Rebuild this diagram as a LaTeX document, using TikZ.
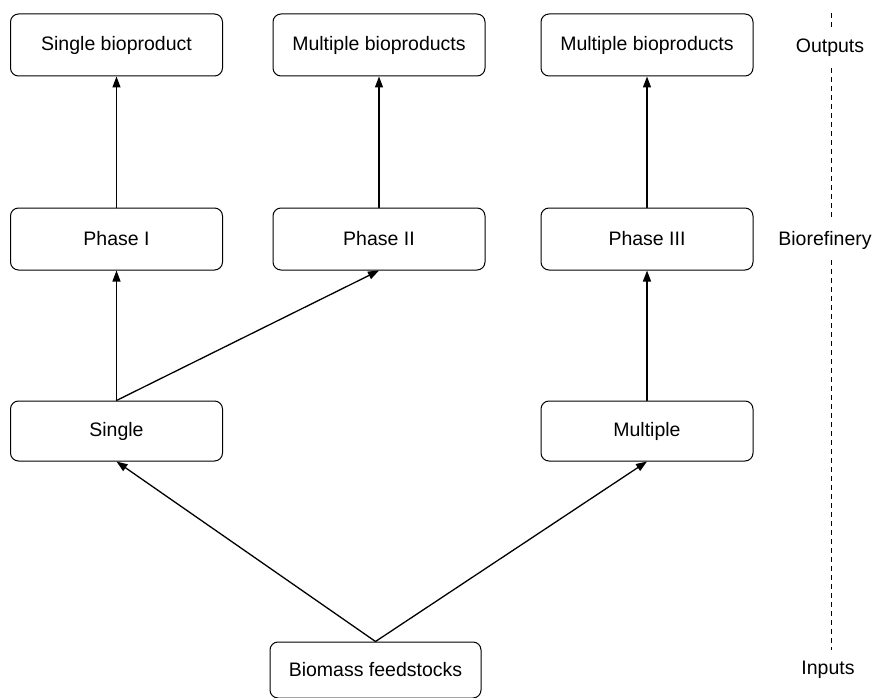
\documentclass[tikz,border=0pt]{standalone}
\usepackage{fontspec}
\setmainfont{Liberation Sans}
\usetikzlibrary{arrows.meta,positioning}

\begin{document}
\begin{tikzpicture}[x=1pt,y=-1pt,line join=round,line cap=round,
    box/.style={draw,rounded corners=8pt,minimum width=212pt,minimum height=62pt,
      line width=1pt,font=\fontsize{19.5}{23}\selectfont},
    arr/.style={line width=1.3pt,-{Triangle[length=11pt,width=8pt]}},
    lbl/.style={inner xsep=2pt,inner ysep=11pt,font=\fontsize{19.5}{23}\selectfont},
    dsh/.style={line width=1pt,line cap=butt,dash pattern=on 5pt off 4pt}]
  \useasboundingbox (0,0) rectangle (876,698);
  % outputs
  \node[box] (out1) at (116.5,45) {Single bioproduct};
  \node[box] (out2) at (379,45) {Multiple bioproducts};
  \node[box] (out3) at (647,45) {Multiple bioproducts};
  % biorefinery
  \node[box] (ph1) at (116.5,239) {Phase I};
  \node[box] (ph2) at (379,239) {Phase II};
  \node[box] (ph3) at (647,239) {Phase III};
  % feedstock type
  \node[box,minimum height=60pt] (sgl) at (116.5,431) {Single};
  \node[box,minimum height=60pt] (mul) at (647,431) {Multiple};
  % inputs
  \node[box,minimum width=211pt,minimum height=56pt] (bio) at (375.5,670) {Biomass feedstocks};
  \draw[arr] (ph1) -- (out1);
  \draw[arr] (ph2) -- (out2);
  \draw[arr] (ph3) -- (out3);
  \draw[arr] (sgl) -- (ph1);
  \draw[arr] (sgl.north) -- (ph2.south);
  \draw[arr] (mul) -- (ph3);
  \draw[arr] (bio.north) -- (sgl.south);
  \draw[arr] (bio.north) -- (mul.south);
  % level labels
  \node[lbl] (outl) at (830,48) {Outputs};
  \node[lbl] (bref) at (825,240) {Biorefinery};
  \node[lbl] (inl) at (828,670) {Inputs};
  \coordinate (dtop) at (831,13);
  \draw[dsh] (dtop) -- (dtop |- outl.north)
    (dtop |- outl.south) -- (dtop |- bref.north)
    (dtop |- bref.south) -- (dtop |- inl.north);
\end{tikzpicture}
\end{document}
